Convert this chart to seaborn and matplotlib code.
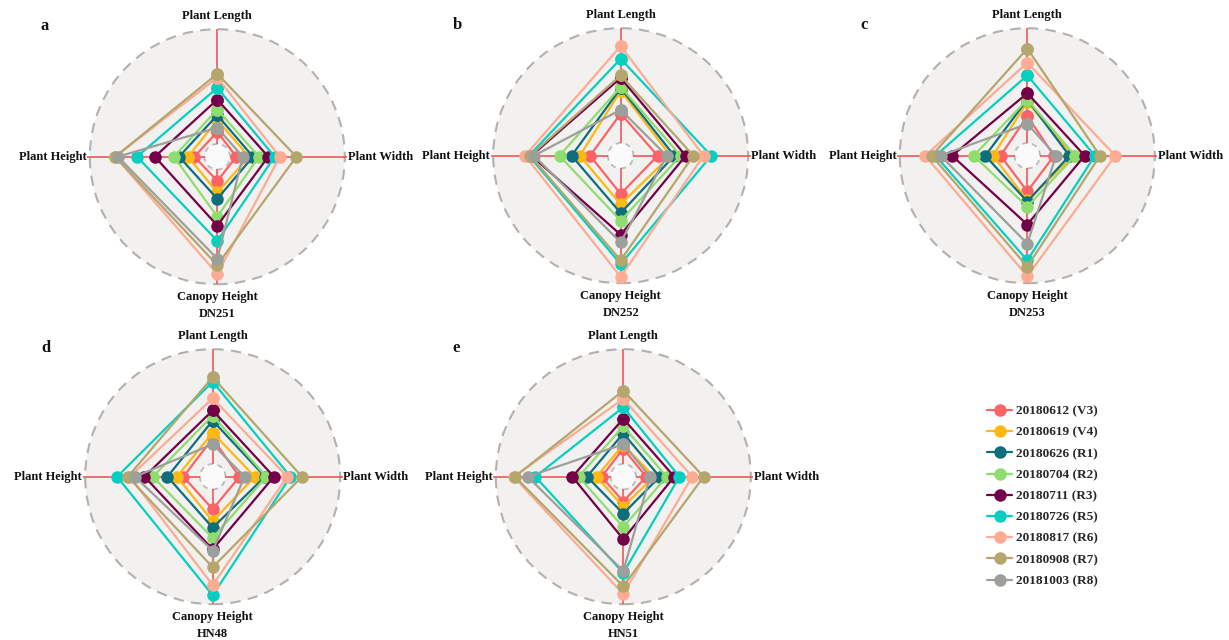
import numpy as np
import pandas as pd
import matplotlib
matplotlib.use("Agg")
import matplotlib.pyplot as plt
from matplotlib.patches import Circle
from matplotlib.lines import Line2D
import seaborn as sns

# ---- data -----------------------------------------------------------------
stages = ["20180612 (V3)", "20180619 (V4)", "20180626 (R1)", "20180704 (R2)",
          "20180711 (R3)", "20180726 (R5)", "20180817 (R6)", "20180908 (R7)",
          "20181003 (R8)"]
traits = ["Plant Length", "Plant Width", "Canopy Height", "Plant Height"]
cultivars = ["DN251", "DN252", "DN253", "HN48", "HN51"]
panel_letters = ["a", "b", "c", "d", "e"]

# normalised trait values (0-1) per stage, one list per trait
dn251_length = [0.195, 0.286, 0.326, 0.37, 0.448, 0.54, 0.62, 0.65, 0.227]
dn251_width = [0.15, 0.25, 0.28, 0.326, 0.40, 0.45, 0.49, 0.62, 0.20]
dn251_canopy = [0.19, 0.28, 0.33, 0.47, 0.54, 0.66, 0.92, 0.85, 0.80]
dn251_height = [0.18, 0.23, 0.30, 0.34, 0.49, 0.63, 0.80, 0.80, 0.78]

dn252_length = [0.33, 0.51, 0.53, 0.54, 0.61, 0.76, 0.86, 0.63, 0.36]
dn252_width = [0.29, 0.39, 0.42, 0.47, 0.51, 0.71, 0.65, 0.57, 0.36]
dn252_canopy = [0.30, 0.38, 0.45, 0.51, 0.62, 0.85, 0.95, 0.82, 0.68]
dn252_height = [0.24, 0.32, 0.385, 0.48, 0.70, 0.72, 0.75, 0.71, 0.68]

dn253_length = [0.31, 0.42, 0.44, 0.44, 0.49, 0.63, 0.73, 0.84, 0.25]
dn253_width = [0.21, 0.36, 0.33, 0.375, 0.45, 0.53, 0.69, 0.57, 0.225]
dn253_canopy = [0.28, 0.35, 0.36, 0.40, 0.54, 0.82, 0.945, 0.87, 0.69]
dn253_height = [0.21, 0.27, 0.33, 0.42, 0.59, 0.72, 0.80, 0.75, 0.68]

hn48_length = [0.30, 0.345, 0.44, 0.48, 0.52, 0.745, 0.615, 0.78, 0.255]
hn48_width = [0.21, 0.33, 0.41, 0.42, 0.48, 0.61, 0.585, 0.70, 0.25]
hn48_canopy = [0.255, 0.35, 0.40, 0.48, 0.57, 0.93, 0.85, 0.71, 0.58]
hn48_height = [0.23, 0.28, 0.355, 0.47, 0.535, 0.75, 0.65, 0.665, 0.61]

hn51_length = [0.22, 0.25, 0.34, 0.395, 0.455, 0.545, 0.61, 0.675, 0.255]
hn51_width = [0.18, 0.24, 0.285, 0.34, 0.40, 0.44, 0.54, 0.63, 0.21]
hn51_canopy = [0.195, 0.235, 0.29, 0.395, 0.49, 0.755, 0.92, 0.86, 0.74]
hn51_height = [0.17, 0.21, 0.285, 0.35, 0.40, 0.69, 0.86, 0.85, 0.75]

values = {
    "DN251": [dn251_length, dn251_width, dn251_canopy, dn251_height],
    "DN252": [dn252_length, dn252_width, dn252_canopy, dn252_height],
    "DN253": [dn253_length, dn253_width, dn253_canopy, dn253_height],
    "HN48": [hn48_length, hn48_width, hn48_canopy, hn48_height],
    "HN51": [hn51_length, hn51_width, hn51_canopy, hn51_height],
}

colors = ["#fb6366", "#fdb813", "#0f6e7c", "#8fdd6e", "#730049",
          "#06cfc0", "#fdab93", "#b4a66c", "#9c9f9a"]
palette = dict(zip(stages, colors))

# ---- layout ---------------------------------------------------------------
W, H, DPI = 1229, 640, 100
R = 127.5  # radar radius in pixels
centers = [(217.3, 156.7), (620.7, 155.7), (1027.3, 155.7),
           (212.7, 476.7), (623.3, 476.7)]
letter_pos = [(45, 26), (457, 25), (864, 25), (46, 348), (456, 348)]

sns.set_theme(style="white")
plt.rcParams["font.family"] = ["Liberation Serif", "DejaVu Serif"]

fig = plt.figure(figsize=(W / DPI, H / DPI), dpi=DPI)
fig.patch.set_facecolor("white")

angles = [0, np.pi / 2, np.pi, 3 * np.pi / 2]
spoke_len = [1.0, 1.02, 1.0, 1.02]
axis_red = "#ef4a4f"
label_kw = dict(fontsize=9, fontweight="bold", color="#111111")

for cultivar, (cx, cy), letter, (lx, ly) in zip(cultivars, centers,
                                               panel_letters, letter_pos):
    ax = fig.add_axes([(cx - R) / W, (H - cy - R) / H, 2 * R / W, 2 * R / H],
                      projection="polar")
    ax.set_theta_zero_location("N")
    ax.set_theta_direction(-1)
    ax.set_axis_off()
    ax.set_ylim(0, 1)

    # background disc, outer and inner dashed rings
    ax.add_patch(Circle((0.5, 0.5), 0.5, transform=ax.transAxes,
                        facecolor="#f2f1f0", edgecolor="none", zorder=0))
    ax.add_patch(Circle((0.5, 0.5), 0.5, transform=ax.transAxes, fill=False,
                        edgecolor="#b3b0ad", lw=1.5, ls=(0, (5, 3.5)),
                        zorder=1, clip_on=False))
    ax.add_patch(Circle((0.5, 0.5), 0.05, transform=ax.transAxes,
                        facecolor="#fafafa", edgecolor="#bdbbb8", lw=1.3,
                        ls=(0, (3, 2.5)), zorder=1))

    # spokes
    for th, ln in zip(angles, spoke_len):
        ax.plot([th, th], [0.1, ln], color=axis_red, lw=1.1, zorder=1,
                clip_on=False, solid_capstyle="butt")

    # long-form table, each polygon closed by repeating the first trait
    rows = []
    for si, stage in enumerate(stages):
        for ti in range(5):
            t = ti % 4
            rows.append({"stage": stage, "theta": ti * np.pi / 2,
                         "r": values[cultivar][t][si]})
    df = pd.DataFrame(rows)
    sns.lineplot(data=df, x="theta", y="r", hue="stage", hue_order=stages,
                 palette=palette, sort=False, estimator=None, marker="o",
                 markersize=9, markeredgewidth=0, lw=1.6, ax=ax, legend=False)
    for ln in ax.lines[4:]:
        ln.set_clip_on(False)
        ln.set_zorder(3)
    ax.set_ylim(0, 1)

    # trait labels
    ax.text(0, 1.1, traits[0], ha="center", va="center", clip_on=False,
            **label_kw)
    ax.text(np.pi / 2, 1.025, traits[1], ha="left", va="center",
            clip_on=False, **label_kw)
    ax.text(np.pi, 1.1, traits[2], ha="center", va="center", clip_on=False,
            **label_kw)
    ax.text(np.pi, 1.235, cultivar, ha="center", va="center", clip_on=False,
            **label_kw)
    ax.text(3 * np.pi / 2, 1.025, traits[3], ha="right", va="center",
            clip_on=False, **label_kw)

    fig.text(lx / W, 1 - ly / H, letter, ha="center", va="center",
             fontsize=12, fontweight="bold", color="#111111")

handles = [Line2D([0], [0], color=c, lw=1.6, marker="o", markersize=9,
                  markeredgewidth=0) for c in colors]
fig.legend(handles, stages, loc="upper left",
           bbox_to_anchor=(982 / W, 1 - 400 / H), frameon=False,
           prop=dict(family="Liberation Serif", weight="bold", size=9.5),
           handlelength=1.9, handletextpad=0.25, labelspacing=0.68,
           borderaxespad=0)

fig.savefig("out.png", dpi=DPI, facecolor="white")
